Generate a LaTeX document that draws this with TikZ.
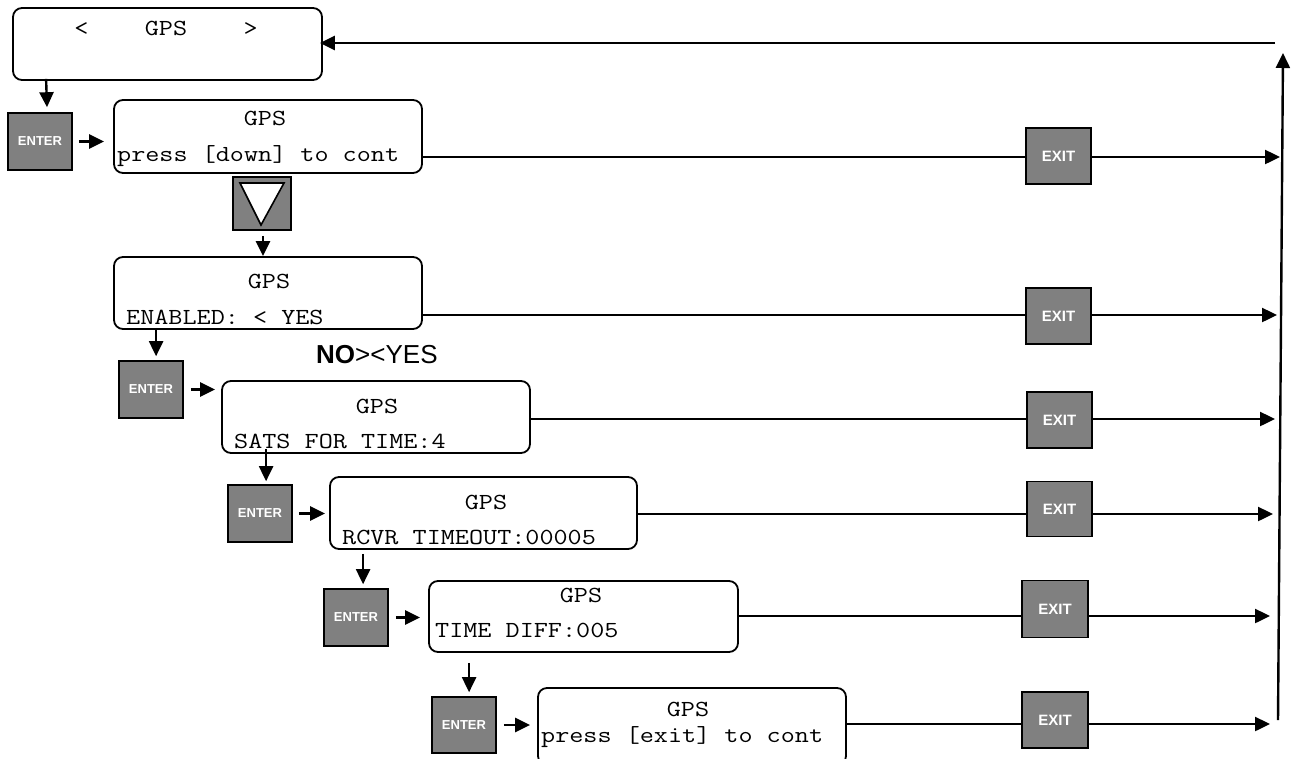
\documentclass[tikz,border=0pt]{standalone}
\usepackage{graphicx}
\usepackage{fontspec}
\setsansfont{Liberation Sans}
\usetikzlibrary{arrows.meta,calc}
\definecolor{btngray}{RGB}{128,128,128}
\newcommand{\sx}[1]{\scalebox{1.19}[1]{#1}}
\begin{document}
\begin{tikzpicture}[x=1pt,y=-1pt,
  lcd/.style={draw, line width=1.8pt, rounded corners=9pt, inner sep=0pt, fill=white},
  btn/.style={draw, line width=1.6pt, fill=btngray, inner sep=0pt},
  enterkey/.style={btn, text=white, font=\sffamily\bfseries\fontsize{13}{13}\selectfont},
  exitkey/.style={btn, text=white, font=\sffamily\bfseries\fontsize{15}{15}\selectfont},
  arr/.style={line width=2.4pt, -{Triangle[length=15pt,width=14pt]}},
  ln/.style={line width=2.4pt},
  txt/.style={inner sep=0pt, font=\ttfamily\fontsize{23}{27}\selectfont},
  hd/.style={txt, anchor=base},
  sub/.style={txt, anchor=base west}
]
\useasboundingbox (0,0) rectangle (1303,758);

% LCD boxes
\node[lcd, minimum width=309pt, minimum height=72pt] (b0) at (167.5,44) {};
\node[lcd, minimum width=308pt, minimum height=73pt] (b1) at (268,136.5) {};
\node[lcd, minimum width=308pt, minimum height=72pt] (b2) at (268,293) {};
\node[lcd, minimum width=308pt, minimum height=72pt] (b3) at (376,417) {};
\node[lcd, minimum width=307pt, minimum height=72pt] (b4) at (483.5,513) {};
\node[lcd, minimum width=309pt, minimum height=71pt] (b5) at (583.5,616.5) {};
\node[lcd, minimum width=308pt, minimum height=77pt] (b6) at (692,726.5) {};

% texts in boxes
\node[hd] (t0) at (166,35) {\sx{<\hphantom{xxxx}GPS\hphantom{xxxx}>}};
\node[hd] (t1a) at (265,125) {\sx{GPS}};
\node[sub] (t1b) at (117,161) {\sx{press [down] to cont}};
\node[hd] (t2a) at (269,288) {\sx{GPS}};
\node[sub] (t2b) at (126,324) {\sx{ENABLED: < YES}};
\node[hd] (t3a) at (377,413) {\sx{GPS}};
\node[sub] (t3b) at (234,448) {\sx{SATS FOR TIME:4}};
\node[hd] (t4a) at (486,509) {\sx{GPS}};
\node[sub] (t4b) at (342,544) {\sx{RCVR TIMEOUT:00005}};
\node[hd] (t5a) at (581,602) {\sx{GPS}};
\node[sub] (t5b) at (435,637) {\sx{TIME DIFF:005}};
\node[hd] (t6a) at (688,716) {\sx{GPS}};
\node[sub] (t6b) at (541,742) {\sx{press [exit] to cont}};

\node[inner sep=0pt, anchor=base west, font=\sffamily\fontsize{26}{26}\selectfont] (noyes) at (316,363) {\textbf{NO}>{}<YES};

% ENTER keys
\node[enterkey, minimum width=64pt, minimum height=57pt] (e1) at (40,141.5) {ENTER};
\node[enterkey, minimum width=64pt, minimum height=57pt] (e2) at (151,389.5) {ENTER};
\node[enterkey, minimum width=64pt, minimum height=57pt] (e3) at (260,513.5) {ENTER};
\node[enterkey, minimum width=64pt, minimum height=57pt] (e4) at (356,617.5) {ENTER};
\node[enterkey, minimum width=64pt, minimum height=56pt] (e5) at (464,725) {ENTER};

% down key
\node[btn, minimum width=58pt, minimum height=53pt] (db) at (262,203.5) {};
\draw[fill=white, line width=1.6pt, line join=miter] ($(db.center)+(-22,-20.5)$) -- ($(db.center)+(22,-20.5)$) -- ($(db.center)+(-1,21.5)$) -- cycle;

% EXIT keys
\node[exitkey, minimum width=65pt, minimum height=56pt] (x1) at (1058.5,156) {EXIT};
\node[exitkey, minimum width=65pt, minimum height=56pt] (x2) at (1058.5,316) {EXIT};
\node[exitkey, minimum width=65pt, minimum height=56pt] (x3) at (1059.5,420) {EXIT};
\node[exitkey, minimum width=65pt, minimum height=55pt] (x4) at (1059.5,509) {EXIT};
\node[exitkey, minimum width=66pt, minimum height=57pt] (x5) at (1055,609) {EXIT};
\node[exitkey, minimum width=66pt, minimum height=56pt] (x6) at (1055,720) {EXIT};

% right ends
\coordinate (r1) at (1280,157);
\coordinate (r2) at (1277,315);
\coordinate (r3) at (1275,419);
\coordinate (r4) at (1273,514);
\coordinate (r5) at (1270,616);
\coordinate (r6) at (1270,724);
\coordinate (vb) at (1278,720);
\coordinate (vt) at (1283,53);
\coordinate (ht) at (1275,43);

% exit rows
\foreach \i in {1,...,6} {
  \draw[ln] (b\i.east |- r\i) -- (x\i.west |- r\i);
  \draw[arr] (x\i.east |- r\i) -- (r\i);
}
\draw[arr] (vb) -- (vt);
\draw[arr] (ht) -- ($(b0.east |- ht)+(-3,0)$);

% flow arrows
\draw[arr] ($(b0.south west)+(34,-2)$) -- ($(e1.north)+(7,-5)$);
\draw[arr] ($(e1.east)+(6,0)$) -- ($(b1.west |- e1.east)+(-9,0)$);
\draw[arr] ($(db.south)+(1,5)$) coordinate (t) -- (t |- b2.north);
\draw[arr] ($(b2.south west)+(43,-2)$) coordinate (t) -- ($(t |- e2.north)+(0,-4)$);
\draw[arr] ($(e2.east)+(7,0)$) -- ($(b3.west |- e2.east)+(-6,0)$);
\draw[arr] ($(b3.south west)+(45,-5)$) coordinate (t) -- ($(t |- e3.north)+(0,-3)$);
\draw[arr] ($(e3.east)+(6,0)$) -- ($(b4.west |- e3.east)+(-4,0)$);
\draw[arr] ($(b4.south west)+(34,4)$) coordinate (t) -- ($(t |- e4.north)+(0,-4)$);
\draw[arr] ($(e4.east)+(7,0)$) -- ($(b5.west |- e4.east)+(-8,0)$);
\draw[arr] ($(b5.south west)+(41,10)$) coordinate (t) -- ($(t |- e5.north)+(0,-4)$);
\draw[arr] ($(e5.east)+(7,0)$) -- ($(b6.west |- e5.east)+(-7,0)$);
\end{tikzpicture}
\end{document}
